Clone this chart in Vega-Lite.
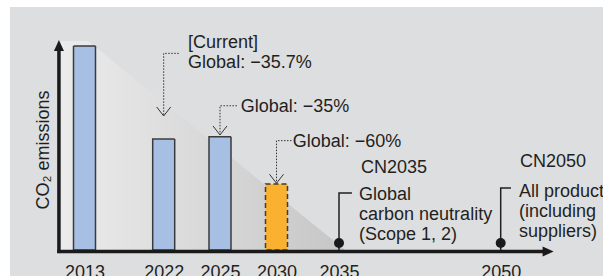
{
  "$schema": "https://vega.github.io/schema/vega-lite/v6.json",
  "width": 593,
  "height": 269,
  "autosize": "none",
  "padding": {"left": 10, "top": 7, "right": 0, "bottom": 0},
  "background": "#ffffff",
  "config": {"view": {"fill": "#dddee0", "stroke": null}, "font": "Liberation Sans"},
  "datasets": {
    "wedge": [
      {"year": 2010, "value": 102.5},
      {"year": 2013.4, "value": 102.5},
      {"year": 2035.56, "value": 0}
    ],
    "bars": [
      {"year": 2013, "value": 100, "type": "base"},
      {"year": 2022, "value": 54.4, "type": "base"},
      {"year": 2025, "value": 55.5, "type": "base"},
      {"year": 2030, "value": 32.4, "type": "target"}
    ],
    "dotted": [
      {"id": "cur", "ord": 1, "year": 2022.8, "value": 96.4},
      {"id": "cur", "ord": 2, "year": 2022, "value": 96.4},
      {"id": "cur", "ord": 3, "year": 2022, "value": 65.7},
      {"id": "g35", "ord": 1, "year": 2026.5, "value": 70.7},
      {"id": "g35", "ord": 2, "year": 2025, "value": 70.7},
      {"id": "g35", "ord": 3, "year": 2025, "value": 56.4},
      {"id": "g60", "ord": 1, "year": 2031.2, "value": 53.6},
      {"id": "g60", "ord": 2, "year": 2030, "value": 53.6},
      {"id": "g60", "ord": 3, "year": 2030, "value": 32.7}
    ],
    "tips": [
      {"year": 2022, "value": 65.7},
      {"year": 2025, "value": 56.4},
      {"year": 2030, "value": 32.7}
    ],
    "solid": [
      {"id": "cn35", "ord": 1, "year": 2035, "value": 0},
      {"id": "cn35", "ord": 2, "year": 2035, "value": 27.9},
      {"id": "cn35", "ord": 3, "year": 2036.2, "value": 27.9},
      {"id": "cn50", "ord": 1, "year": 2050, "value": 0},
      {"id": "cn50", "ord": 2, "year": 2050, "value": 30.4},
      {"id": "cn50", "ord": 3, "year": 2051.08, "value": 30.4}
    ],
    "milestones": [
      {"year": 2035, "value": 0},
      {"year": 2050, "value": 0}
    ],
    "axisX": [
      {"year": 2009.8, "year2": 2055, "value": -0.735}
    ],
    "axisY": [
      {"year": 2010, "value": -1.5, "value2": 100.25}
    ],
    "arrowUp": [
      {"year": 2010, "value": 100.25}
    ],
    "arrowRight": [
      {"year": 2055, "value": -0.735}
    ],
    "notes": [
      {"year": 2023.3, "value": 98.9, "label": "[Current]\nGlobal: −35.7%"},
      {"year": 2026.83, "value": 67.8, "label": "Global: −35%"},
      {"year": 2031.3, "value": 50.5, "label": "Global: −60%"},
      {"year": 2037.04, "value": 37.7, "label": "CN2035"},
      {"year": 2036.86, "value": 24.75, "label": "Global\ncarbon neutrality\n(Scope 1, 2)"},
      {"year": 2052.03, "value": 40.7, "label": "CN2050"},
      {"year": 2051.93, "value": 26.2, "label": "All products\n(including\nsuppliers)"}
    ],
    "ytitle": [
      {"year": 2008.83, "value": 49.0, "label": "CO₂ emissions"}
    ]
  },
  "encoding": {
    "x": {
      "field": "year",
      "type": "quantitative",
      "scale": {
        "type": "linear",
        "domain": [2010, 2013, 2022, 2025, 2030, 2035, 2050, 2055],
        "range": [45, 74.5, 153.7, 210, 266.5, 329, 490.7, 542.5],
        "nice": false,
        "zero": false
      },
      "axis": {
        "values": [2013, 2022, 2025, 2030, 2035, 2050],
        "format": "d",
        "domain": false,
        "ticks": false,
        "tickSize": 0,
        "grid": false,
        "title": null,
        "labelFontSize": 18,
        "labelColor": "#231f20",
        "labelFont": "Liberation Sans",
        "offset": -13,
        "labelPadding": 0,
        "labelOverlap": false,
        "labelFlush": false
      }
    },
    "y": {
      "field": "value",
      "type": "quantitative",
      "scale": {"domain": [0, 100], "range": [243, 39], "nice": false, "zero": false},
      "axis": null
    }
  },
  "layer": [
    {
      "data": {"name": "wedge"},
      "mark": {
        "type": "area",
        "color": {
          "gradient": "linear",
          "x1": 0, "y1": 0, "x2": 1, "y2": 0,
          "stops": [
            {"offset": 0, "color": "#ececec"},
            {"offset": 1, "color": "#c6c6c6"}
          ]
        }
      }
    },
    {
      "data": {"name": "bars"},
      "mark": {"type": "bar", "width": 22, "stroke": "#3b3b3b", "strokeWidth": 1.5},
      "encoding": {
        "color": {
          "field": "type",
          "type": "nominal",
          "scale": {"domain": ["base", "target"], "range": ["#a7bfe3", "#fbb130"]},
          "legend": null
        },
        "strokeDash": {
          "field": "type",
          "type": "nominal",
          "scale": {"domain": ["base", "target"], "range": [[1, 0], [5, 3]]},
          "legend": null
        }
      }
    },
    {
      "data": {"name": "dotted"},
      "mark": {"type": "line", "color": "#333333", "strokeWidth": 1, "strokeDash": [1.5, 1.5]},
      "encoding": {
        "detail": {"field": "id", "type": "nominal"},
        "order": {"field": "ord", "type": "quantitative"}
      }
    },
    {
      "data": {"name": "tips"},
      "mark": {
        "type": "point",
        "shape": "M-1.75,-2.25L0,0L1.75,-2.25",
        "size": 64,
        "filled": false,
        "stroke": "#333333",
        "strokeWidth": 1,
        "opacity": 1
      }
    },
    {
      "data": {"name": "solid"},
      "mark": {"type": "line", "color": "#231f20", "strokeWidth": 1.5},
      "encoding": {
        "detail": {"field": "id", "type": "nominal"},
        "order": {"field": "ord", "type": "quantitative"}
      }
    },
    {
      "data": {"name": "axisX"},
      "mark": {"type": "rule", "color": "#1a1a1a", "strokeWidth": 3.5},
      "encoding": {
        "x2": {"field": "year2"}
      }
    },
    {
      "data": {"name": "axisY"},
      "mark": {"type": "rule", "color": "#1a1a1a", "strokeWidth": 3.5},
      "encoding": {
        "y2": {"field": "value2"}
      }
    },
    {
      "data": {"name": "arrowUp"},
      "mark": {
        "type": "point",
        "shape": "M0,-1.1L-1,1.1L1,1.1Z",
        "size": 100,
        "filled": true,
        "color": "#1a1a1a",
        "opacity": 1
      }
    },
    {
      "data": {"name": "arrowRight"},
      "mark": {
        "type": "point",
        "shape": "M1.1,0L-1.1,-1L-1.1,1Z",
        "size": 100,
        "filled": true,
        "color": "#1a1a1a",
        "opacity": 1
      }
    },
    {
      "data": {"name": "milestones"},
      "mark": {"type": "circle", "size": 100, "color": "#1a1a1a", "opacity": 1, "yOffset": -7}
    },
    {
      "data": {"name": "notes"},
      "mark": {
        "type": "text",
        "align": "left",
        "baseline": "alphabetic",
        "fontSize": 18,
        "lineHeight": 20,
        "lineBreak": "\n",
        "color": "#231f20",
        "font": "Liberation Sans"
      },
      "encoding": {"text": {"field": "label", "type": "nominal"}}
    },
    {
      "data": {"name": "ytitle"},
      "mark": {
        "type": "text",
        "align": "center",
        "baseline": "alphabetic",
        "angle": 270,
        "fontSize": 18,
        "color": "#231f20",
        "font": "Liberation Sans"
      },
      "encoding": {"text": {"field": "label", "type": "nominal"}}
    }
  ]
}
